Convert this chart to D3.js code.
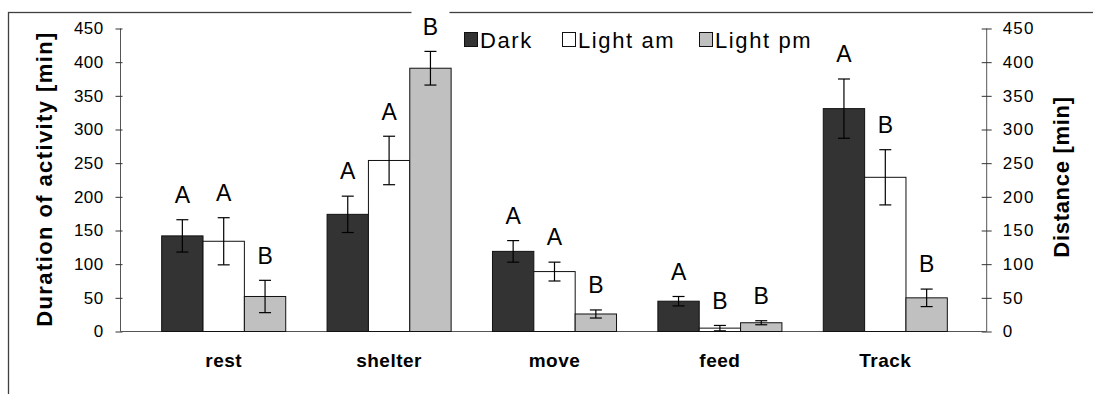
<!DOCTYPE html>
<html>
<head>
<meta charset="utf-8">
<script src="https://cdn.jsdelivr.net/npm/d3@7"></script>
<style>
  html, body { margin: 0; padding: 0; background: #fff; }
  svg { display: block; }
  text { font-family: "Liberation Sans", Arial, sans-serif; fill: #000; }
</style>
</head>
<body>
<svg id="chart" width="1093" height="394"></svg>
<script>
// Activity categories and the three light phases
const categories = ["rest", "shelter", "move", "feed", "Track"];
const seriesNames = ["Dark", "Light am", "Light pm"];

// Mean duration (min) per phase
const darkValues    = [142, 174, 119, 45, 331];
const lightAmValues = [134, 254, 89, 5, 229];
const lightPmValues = [52, 391, 26, 13, 50];

// Error bar half-widths (min)
const darkErr    = [24, 27, 16, 7, 44];
const lightAmErr = [35, 36, 14, 4, 41];
const lightPmErr = [24, 25, 6, 3, 13];

// Significance letters
const darkLetters    = ["A", "A", "A", "A", "A"];
const lightAmLetters = ["A", "A", "A", "B", "B"];
const lightPmLetters = ["B", "B", "B", "B", "B"];

// Axis ticks
const yTicks = [0, 50, 100, 150, 200, 250, 300, 350, 400, 450];

const seriesColors = ["#333333", "#ffffff", "#c0c0c0"];

const values = [darkValues, lightAmValues, lightPmValues];
const errs = [darkErr, lightAmErr, lightPmErr];
const letters = [darkLetters, lightAmLetters, lightPmLetters];

const rows = [];
seriesNames.forEach((s, si) => {
  categories.forEach((c, ci) => {
    rows.push({ series: s, si, category: c, value: values[si][ci], err: errs[si][ci], letter: letters[si][ci] });
  });
});

const svg = d3.select("#chart");

// outer frame
svg.append("rect")
  .attr("x", 8.5).attr("y", 12.5)
  .attr("width", 1200).attr("height", 500)
  .attr("fill", "none").attr("stroke", "#404040").attr("stroke-width", 1.3);

const plotLeft = 120.5, plotRight = 986.7;
const y = d3.scaleLinear().domain([0, 450]).range([331.5, 28.5]);

const x0 = d3.scaleBand().domain(categories).range([141, 968])
  .paddingInner(0.25).paddingOuter(0.125);
const x1 = d3.scaleBand().domain(seriesNames).range([0, x0.bandwidth()]);
const color = d3.scaleOrdinal().domain(seriesNames).range(seriesColors);

// left axis
const leftAxis = svg.append("g").attr("transform", `translate(${plotLeft},0)`)
  .call(d3.axisLeft(y).tickValues(yTicks).tickSize(5).tickPadding(12));
leftAxis.select(".domain").attr("stroke", "#555").attr("d", `M0,${y(450)}V${y(0)}`);
leftAxis.selectAll(".tick line").attr("stroke", "#333").attr("x1", 2).attr("x2", -5);
leftAxis.selectAll(".tick text")
  .attr("font-size", 17).attr("letter-spacing", 0.4)
  .attr("font-family", "Liberation Sans, Arial, sans-serif").attr("fill", "#000");

// right axis
const rightAxis = svg.append("g").attr("transform", `translate(${plotRight},0)`)
  .call(d3.axisRight(y).tickValues(yTicks).tickSize(5).tickPadding(11));
rightAxis.select(".domain").attr("stroke", "#555").attr("d", `M0,${y(450)}V${y(0)}`);
rightAxis.selectAll(".tick line").attr("stroke", "#333").attr("x1", -5).attr("x2", 5);
rightAxis.selectAll(".tick text")
  .attr("font-size", 17).attr("letter-spacing", 1.2)
  .attr("font-family", "Liberation Sans, Arial, sans-serif").attr("fill", "#000");

// category axis along the baseline
const xAxis = svg.append("g").attr("transform", `translate(0,${y(0)})`)
  .call(d3.axisBottom(x0).tickSize(0).tickPadding(22));
xAxis.select(".domain").attr("stroke", "#555").attr("d", `M${plotLeft},0H${plotRight}`);
xAxis.selectAll(".tick text")
  .attr("font-size", 19).attr("font-weight", "bold").attr("letter-spacing", 0.5)
  .attr("font-family", "Liberation Sans, Arial, sans-serif").attr("fill", "#000");

// bars
const bars = svg.append("g");
bars.selectAll("rect").data(rows).join("rect")
  .attr("x", d => x0(d.category) + x1(d.series))
  .attr("y", d => y(d.value))
  .attr("width", x1.bandwidth())
  .attr("height", d => y(0) - y(d.value))
  .attr("fill", d => color(d.series))
  .attr("stroke", "#111").attr("stroke-width", 1);

// significance letters on white boxes
const labels = svg.append("g");
const lab = labels.selectAll("g").data(rows).join("g")
  .attr("transform", d => `translate(${x0(d.category) + x1(d.series) + x1.bandwidth() / 2},${y(d.value + d.err) - 25})`);
lab.append("rect")
  .attr("x", -19).attr("y", -20).attr("width", 38).attr("height", 42)
  .attr("fill", "#fff");
lab.append("text")
  .attr("text-anchor", "middle").attr("dy", "0.36em")
  .attr("font-size", 23)
  .text(d => d.letter);

// error bars
const eb = svg.append("g").attr("stroke", "#000").attr("stroke-width", 1.2);
rows.forEach(d => {
  const cx = x0(d.category) + x1(d.series) + x1.bandwidth() / 2;
  const yt = y(d.value + d.err), yb = y(d.value - d.err);
  eb.append("line").attr("x1", cx).attr("x2", cx).attr("y1", yt).attr("y2", yb);
  eb.append("line").attr("x1", cx - 6).attr("x2", cx + 6).attr("y1", yt).attr("y2", yt);
  eb.append("line").attr("x1", cx - 6).attr("x2", cx + 6).attr("y1", yb).attr("y2", yb);
});

// axis titles
svg.append("text")
  .attr("transform", `translate(52,179) rotate(-90)`)
  .attr("text-anchor", "middle")
  .attr("font-size", 22).attr("font-weight", "bold").attr("letter-spacing", 1.4)
  .text("Duration of activity [min]");
svg.append("text")
  .attr("transform", `translate(1069,177) rotate(-90)`)
  .attr("text-anchor", "middle")
  .attr("font-size", 22).attr("font-weight", "bold").attr("letter-spacing", 0.7)
  .text("Distance [min]");

// legend
const legendX = [464, 562, 699];
const legend = svg.append("g");
seriesNames.forEach((s, i) => {
  const g = legend.append("g").attr("transform", `translate(${legendX[i]},32)`);
  g.append("rect").attr("x", 0.5).attr("y", 0.5).attr("width", 13).attr("height", 14)
    .attr("fill", color(s)).attr("stroke", "#111").attr("stroke-width", 1);
  g.append("text").attr("x", 16).attr("y", 15.5)
    .attr("font-size", 22).attr("letter-spacing", 1.6)
    .text(s);
});
</script>
</body>
</html>
